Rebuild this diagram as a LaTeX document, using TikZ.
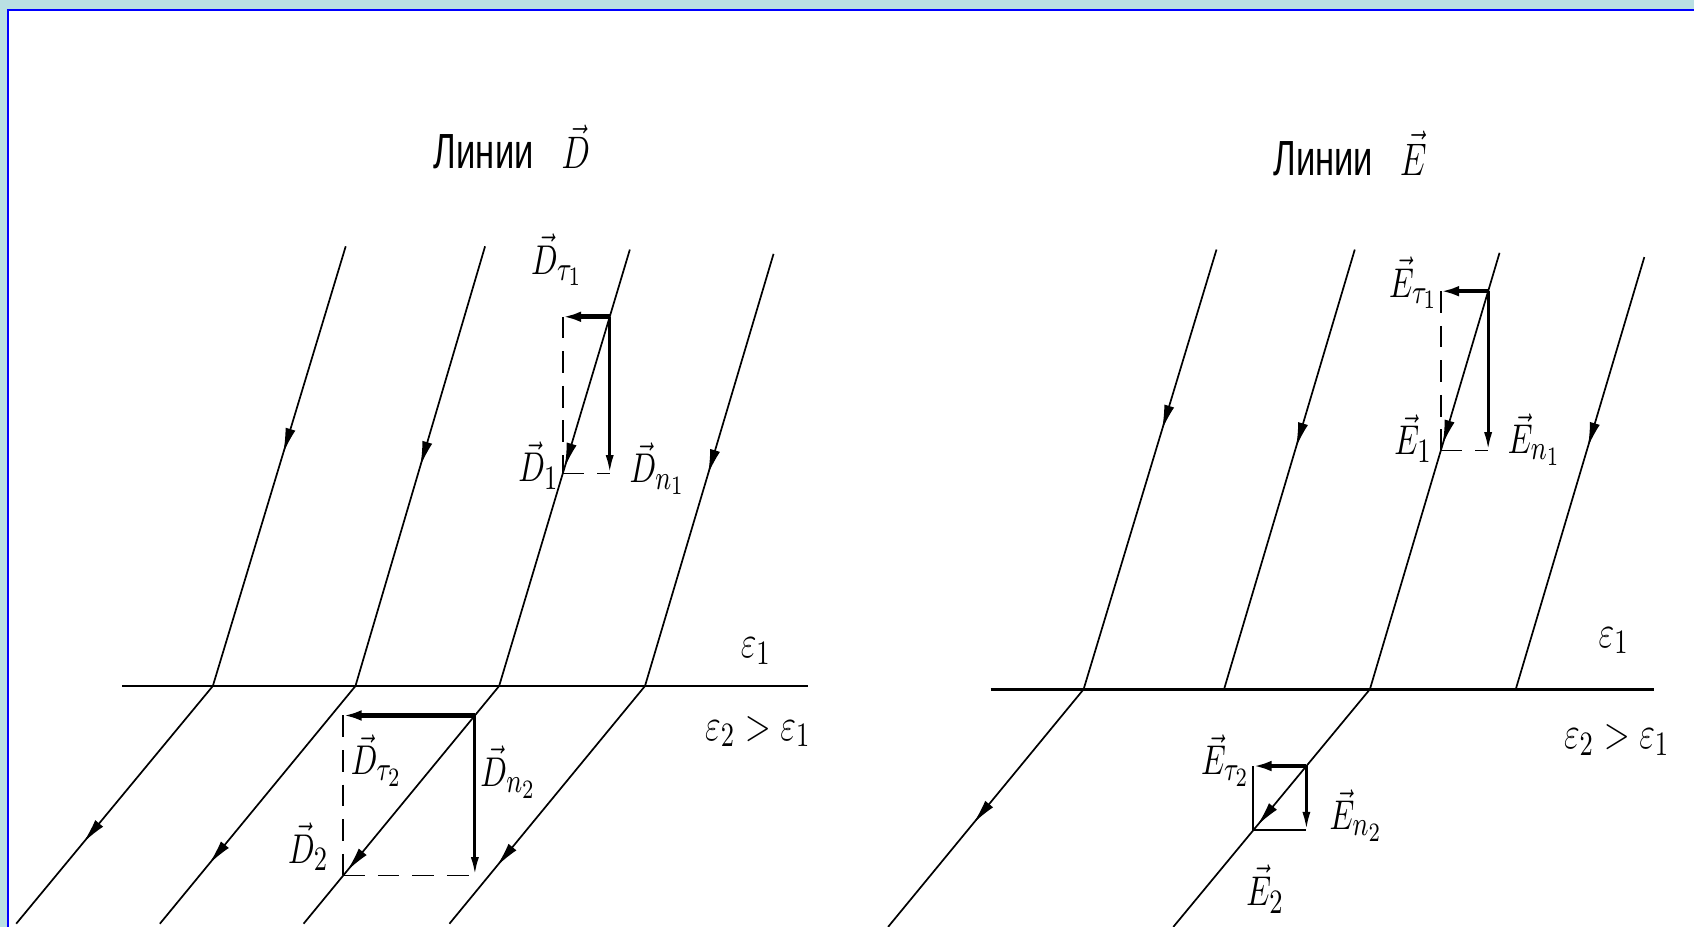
\documentclass[tikz,border=0pt]{standalone}
\usepackage{fontspec}
\newfontfamily\cyrfont{Liberation Sans}
\usepackage{graphicx}
\usepackage{xcolor}
\definecolor{panelbg}{RGB}{186,224,227}
\colorlet{frameblue}{blue}
\usepackage{tikz}
\usetikzlibrary{calc}
\usetikzlibrary{arrows.meta}
\usetikzlibrary{decorations.markings}

\DeclareMathSizes{11}{11}{9}{7}
\DeclareMathSizes{12}{12}{9.5}{7.5}
\newcommand{\narrowmath}[1]{\scalebox{0.75}[1]{$#1$}}
\newcommand{\narrowword}[1]{\scalebox{0.7}[1]{\cyrfont #1}}

\begin{document}
\begin{tikzpicture}[
    fline/.style={line width=0.45pt, postaction={decorate},
      decoration={markings, mark=at position #1 with {\arrow{Latex[length=2.3mm,width=0.95mm]}}}},
    boundary/.style={line width=0.7pt},
    tanvec/.style={line width=1.2pt, -{Latex[length=1.7mm,width=1mm]}},
    normvec/.style={line width=0.75pt, -{Latex[length=1.7mm,width=0.75mm]}},
    helper/.style={line width=0.45pt, dash pattern=on 2mm off 1.2mm},
    lbl/.style={inner sep=0pt, anchor=base west, font=\fontsize{11}{13}\selectfont},
    epslbl/.style={inner sep=0pt, anchor=base west, font=\fontsize{12}{14}\selectfont},
    ttl/.style={inner sep=0pt, anchor=base west, font=\fontsize{13}{15}\selectfont}
  ]
        \useasboundingbox (0cm,0cm) rectangle (15.68cm,-8.58cm);
        \fill[panelbg] (0cm,0cm) rectangle (15.68cm,-8.58cm);
        \fill[white] (0.074cm,-0.093cm) rectangle (15.68cm,-8.58cm);
        \draw[frameblue, line width=0.55pt] (0.074cm,-8.58cm) -- (0.074cm,-0.093cm) -- (15.68cm,-0.093cm);

        % left half: lines of D
        \node[ttl] (ttlD) at (4.01cm,-1.56cm) {\narrowword{Линии}};
        \node[ttl] (ttlDvec) at (5.19cm,-1.56cm) {\narrowmath{\vec{D}}};

        \coordinate (lt1) at (3.20cm,-2.28cm);
        \coordinate (lt2) at (4.49cm,-2.28cm);
        \coordinate (lt3) at (5.83cm,-2.31cm);
        \coordinate (lt4) at (7.16cm,-2.35cm);
        \coordinate (lj1) at (1.97cm,-6.35cm);
        \coordinate (lj2) at (3.29cm,-6.35cm);
        \coordinate (lj3) at (4.62cm,-6.35cm);
        \coordinate (lj4) at (5.97cm,-6.35cm);
        \coordinate (lb1) at (0.15cm,-8.55cm);
        \coordinate (lb2) at (1.48cm,-8.55cm);
        \coordinate (lb3) at (2.81cm,-8.55cm);
        \coordinate (lb4) at (4.16cm,-8.55cm);
        \coordinate (lsa) at (1.13cm,-6.35cm);
        \coordinate (lsb) at (7.48cm,-6.35cm);

        \draw[boundary] (lsa) -- (lsb);
        \draw[fline=0.47] (lt1) -- (lj1);
        \draw[fline=0.50] (lt2) -- (lj2);
        \draw[fline=0.50] (lt3) -- (lj3);
        \draw[fline=0.51] (lt4) -- (lj4);
        \draw[fline=0.66] (lj1) -- (lb1);
        \draw[fline=0.75] (lj2) -- (lb2);
        \draw[fline=0.78] (lj3) -- (lb3);
        \draw[fline=0.76] (lj4) -- (lb4);

        % components above the boundary
        \coordinate (lp1) at ($(lt3)!0.154!(lj3)$);
        \coordinate (lq1) at ($(lt3)!0.513!(lj3)$);
        \draw[helper] (lq1 |- lp1) -- (lq1);
        \draw[helper] (lq1) -- (lp1 |- lq1);
        \draw[tanvec] (lp1) -- (lq1 |- lp1);
        \draw[normvec] (lp1) -- (lp1 |- lq1);

        % components below the boundary
        \coordinate (lp2) at ($(lj3)!0.124!(lb3)$);
        \coordinate (lq2) at ($(lj3)!0.797!(lb3)$);
        \draw[helper] (lq2 |- lp2) -- (lq2);
        \draw[helper] (lq2) -- (lp2 |- lq2);
        \draw[tanvec] (lp2) -- (lq2 |- lp2);
        \draw[normvec] (lp2) -- (lp2 |- lq2);

        \node[lbl] (Dtau1) at (4.91cm,-2.54cm) {\narrowmath{\vec{D}_{\tau_1}}};
        \node[lbl] (Done) at (4.79cm,-4.46cm) {\narrowmath{\vec{D}_1}};
        \node[lbl] (Dn1) at (5.82cm,-4.47cm) {\narrowmath{\vec{D}_{n_1}}};
        \node[lbl] (Dtau2) at (3.24cm,-7.17cm) {\narrowmath{\vec{D}_{\tau_2}}};
        \node[lbl] (Dn2) at (4.44cm,-7.28cm) {\narrowmath{\vec{D}_{n_2}}};
        \node[lbl] (Dtwo) at (2.66cm,-7.99cm) {\narrowmath{\vec{D}_2}};
        \node[epslbl] (epsL1) at (6.85cm,-6.09cm) {\narrowmath{\varepsilon_1}};
        \node[epslbl] (epsL2) at (6.52cm,-6.85cm) {\narrowmath{\varepsilon_2 > \varepsilon_1}};

        % right half: lines of E
        \node[ttl] (ttlE) at (11.78cm,-1.62cm) {\narrowword{Линии}};
        \node[ttl] (ttlEvec) at (12.95cm,-1.62cm) {\narrowmath{\vec{E}}};

        \coordinate (rt1) at (11.26cm,-2.31cm);
        \coordinate (rt2) at (12.54cm,-2.31cm);
        \coordinate (rt3) at (13.88cm,-2.34cm);
        \coordinate (rt4) at (15.22cm,-2.38cm);
        \coordinate (rj1) at (10.03cm,-6.38cm);
        \coordinate (rj2) at (11.33cm,-6.38cm);
        \coordinate (rj3) at (12.68cm,-6.38cm);
        \coordinate (rj4) at (14.03cm,-6.38cm);
        \coordinate (rb1) at (8.22cm,-8.58cm);
        \coordinate (rb3) at (10.86cm,-8.58cm);
        \coordinate (rsa) at (9.17cm,-6.38cm);
        \coordinate (rsb) at (15.31cm,-6.38cm);

        \draw[boundary] (rsa) -- (rsb);
        \draw[fline=0.41] (rt1) -- (rj1);
        \draw[fline=0.45] (rt2) -- (rj2);
        \draw[fline=0.44] (rt3) -- (rj3);
        \draw[fline=0.44] (rt4) -- (rj4);
        \draw[fline=0.565] (rj1) -- (rb1);
        \draw[fline=0.575] (rj3) -- (rb3);

        % components above the boundary
        \coordinate (rp1) at ($(rt3)!0.088!(rj3)$);
        \coordinate (rq1) at ($(rt3)!0.453!(rj3)$);
        \draw[helper] (rq1 |- rp1) -- (rq1);
        \draw[helper] (rq1) -- (rp1 |- rq1);
        \draw[tanvec] (rp1) -- (rq1 |- rp1);
        \draw[normvec] (rp1) -- (rp1 |- rq1);

        % components below the boundary
        \coordinate (rp2) at ($(rj3)!0.323!(rb3)$);
        \coordinate (rq2) at ($(rj3)!0.593!(rb3)$);
        \draw[line width=0.6pt] (rq2 |- rp2) -- (rq2) -- (rp2 |- rq2);
        \draw[tanvec] (rp2) -- (rq2 |- rp2);
        \draw[normvec] (rp2) -- (rp2 |- rq2);

        \node[lbl] (Etau1) at (12.85cm,-2.75cm) {\narrowmath{\vec{E}_{\tau_1}}};
        \node[lbl] (Eone) at (12.90cm,-4.21cm) {\narrowmath{\vec{E}_1}};
        \node[lbl] (En1) at (13.95cm,-4.20cm) {\narrowmath{\vec{E}_{n_1}}};
        \node[lbl] (Etau2) at (11.11cm,-7.17cm) {\narrowmath{\vec{E}_{\tau_2}}};
        \node[lbl] (En2) at (12.30cm,-7.68cm) {\narrowmath{\vec{E}_{n_2}}};
        \node[lbl] (Etwo) at (11.53cm,-8.38cm) {\narrowmath{\vec{E}_2}};
        \node[epslbl] (epsR1) at (14.79cm,-5.99cm) {\narrowmath{\varepsilon_1}};
        \node[epslbl] (epsR2) at (14.47cm,-6.93cm) {\narrowmath{\varepsilon_2 > \varepsilon_1}};
\end{tikzpicture}
\end{document}
